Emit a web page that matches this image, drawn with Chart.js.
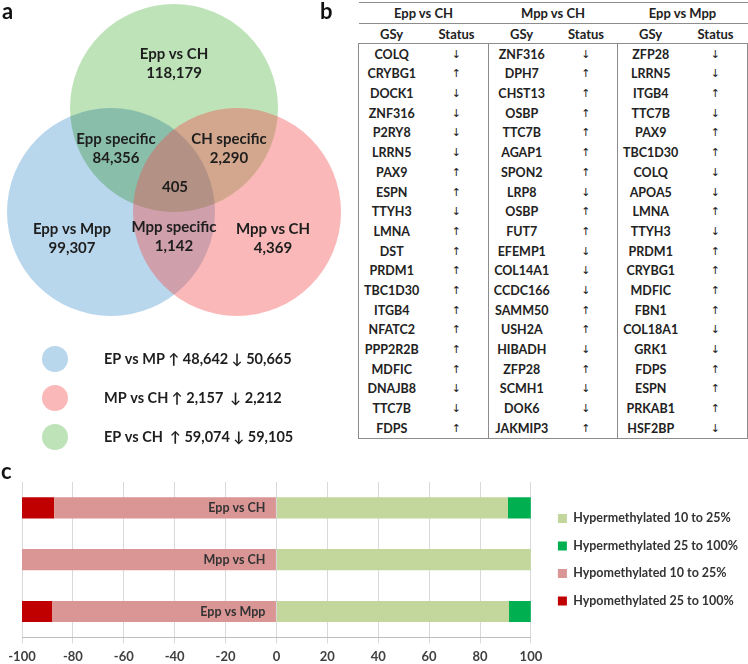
<!DOCTYPE html>
<html>
<head>
<meta charset="utf-8">
<script src="https://cdn.jsdelivr.net/npm/chart.js@4.4.1/dist/chart.umd.min.js"></script>
<style>
body { margin: 0; width: 748px; height: 664px; position: relative; background: #fff; font-family: Lato, sans-serif; overflow: hidden; }
.tag { position: absolute; font-weight: bold; font-size: 22px; color: #111; line-height: 22px; z-index: 2; }
#venn { position: absolute; left: 0; top: 0; }
#bars { position: absolute; left: 0; top: 478px; }
#tbl { position: absolute; left: 358px; top: 2px; border-collapse: collapse; table-layout: fixed; width: 389px; font-weight: bold; font-size: 12.5px; color: #222; }
#tbl td { height: 19.7px; padding: 0; text-align: center; white-space: nowrap; }
#tbl tr.h1 td, #tbl tr.h2 td { font-size: 13px; }
#tbl .arrow { font-family: "DejaVu Sans", sans-serif; font-weight: normal; font-size: 11px; }
#tbl tr.h1 td { border-top: 1px solid #8c8c8c; border-bottom: 1px solid #8c8c8c; }
#tbl tr.h2 td { border-bottom: 1px solid #8c8c8c; }
#tbl td.gl { border-left: 1px solid #8c8c8c; }
#tbl td.gr { border-right: 1px solid #8c8c8c; }
#tbl tr.last td { border-bottom: 1px solid #8c8c8c; }
</style>
</head>
<body>
<canvas id="venn" width="352" height="470"></canvas>
<table id="tbl"></table>
<canvas id="bars" width="748" height="193"></canvas>
<div class="tag" style="left:2px;top:0px">a</div>
<div class="tag" style="left:320px;top:0px">b</div>
<div class="tag" style="left:1px;top:460px">c</div>
<script>
// ---- panel a: venn counts
const vennSets = ['Epp vs CH', 'Epp vs Mpp', 'Mpp vs CH'];
const vennSetCounts = ['118,179', '99,307', '4,369'];
const vennPairs = ['Epp specific', 'CH specific', 'Mpp specific'];
const vennPairCounts = ['84,356', '2,290', '1,142'];
const vennCore = '405';
const keyText = ['EP vs MP \u2191 48,642 \u2193 50,665', 'MP vs CH \u2191 2,157  \u2193 2,212', 'EP vs CH  \u2191 59,074 \u2193 59,105'];
const keyColors = ['rgb(184,214,236)', 'rgb(250,184,184)', 'rgb(190,227,185)'];

// ---- panel b: genes
const eppChGenes = ['COLQ','CRYBG1','DOCK1','ZNF316','P2RY8','LRRN5','PAX9','ESPN','TTYH3','LMNA','DST','PRDM1','TBC1D30','ITGB4','NFATC2','PPP2R2B','MDFIC','DNAJB8','TTC7B','FDPS'];
const eppChStatus = ['↓','↑','↓','↓','↓','↓','↑','↑','↓','↑','↑','↑','↑','↑','↑','↑','↑','↓','↓','↑'];
const mppChGenes = ['ZNF316','DPH7','CHST13','OSBP','TTC7B','AGAP1','SPON2','LRP8','OSBP','FUT7','EFEMP1','COL14A1','CCDC166','SAMM50','USH2A','HIBADH','ZFP28','SCMH1','DOK6','JAKMIP3'];
const mppChStatus = ['↓','↑','↑','↑','↑','↑','↑','↓','↑','↑','↓','↓','↓','↑','↑','↓','↑','↓','↓','↑'];
const eppMppGenes = ['ZFP28','LRRN5','ITGB4','TTC7B','PAX9','TBC1D30','COLQ','APOA5','LMNA','TTYH3','PRDM1','CRYBG1','MDFIC','FBN1','COL18A1','GRK1','FDPS','ESPN','PRKAB1','HSF2BP'];
const eppMppStatus = ['↓','↓','↑','↓','↑','↑','↓','↓','↑','↓','↑','↑','↑','↑','↓','↓','↑','↑','↑','↓'];

// ---- panel c: methylation shares
const barCategories = ['Epp vs CH', 'Mpp vs CH', 'Epp vs Mpp'];
const hyper10 = [91.0, 100, 91.4];
const hyper25 = [9.0, 0, 8.6];
const hypo10 = [-87.4, -100, -88.2];
const hypo25 = [-12.6, 0, -11.8];

// venn layout (units of the venn canvas scale)
const circleX = [174, 111, 237], circleY = [108, 212, 212], circleR = 104;
const setLabelPos = [[174, 54], [72, 229], [273, 229]];
const pairLabelPos = [[116, 139], [229, 139], [174, 227]];
const corePos = [175, 187];
const keyX = 55, keyY = [359, 398, 437], keyR = 13;

const vennText = {
  id: 'vennText',
  // green and blue circles multiply, the pink one is a plain translucent wash on top
  beforeDatasetDraw(chart, args) {
    chart.ctx.save();
    if (args.index === 1) chart.ctx.globalCompositeOperation = 'multiply';
  },
  afterDatasetDraw(chart) {
    chart.ctx.restore();
  },
  afterDatasetsDraw(chart) {
    const ctx = chart.ctx;
    const sx = chart.scales.x, sy = chart.scales.y;
    ctx.save();
    ctx.fillStyle = '#1e1e1e';
    ctx.textAlign = 'center';
    ctx.textBaseline = 'middle';
    ctx.font = 'bold 15px Lato';
    const two = (pos, a, b) => {
      ctx.fillText(a, sx.getPixelForValue(pos[0]), sy.getPixelForValue(pos[1]));
      ctx.fillText(b, sx.getPixelForValue(pos[0]), sy.getPixelForValue(pos[1] + 19));
    };
    vennSets.forEach((s, i) => two(setLabelPos[i], s, vennSetCounts[i]));
    vennPairs.forEach((s, i) => two(pairLabelPos[i], s, vennPairCounts[i]));
    ctx.fillText(vennCore, sx.getPixelForValue(corePos[0]), sy.getPixelForValue(corePos[1]));
    ctx.textAlign = 'left';
    ctx.font = 'bold 14.5px Lato, "DejaVu Sans"';
    keyText.forEach((t, i) => ctx.fillText(t, sx.getPixelForValue(104), sy.getPixelForValue(keyY[i])));
    ctx.restore();
  }
};

new Chart(document.getElementById('venn'), {
  type: 'bubble',
  data: {
    datasets: [{
      data: [{x: circleX[2], y: circleY[2], r: circleR}],
      backgroundColor: 'rgba(242,77,77,0.4)',
      borderWidth: 0,
      clip: false
    }, {
      data: [{x: circleX[0], y: circleY[0], r: circleR}, {x: circleX[1], y: circleY[1], r: circleR}],
      backgroundColor: ['rgb(190,227,185)', 'rgb(184,214,236)'],
      borderWidth: 0,
      clip: false
    }, {
      data: keyY.map(y => ({x: keyX, y: y, r: keyR})),
      backgroundColor: keyColors,
      borderWidth: 0,
      clip: false
    }]
  },
  options: {
    responsive: false,
    animation: false,
    layout: {padding: 0, autoPadding: false},
    plugins: {legend: {display: false}, tooltip: {enabled: false}},
    events: [],
    scales: {
      x: {display: false, min: 0, max: 352},
      y: {display: false, min: 0, max: 470, reverse: true}
    }
  },
  plugins: [vennText]
});

// table
const groups = [['Epp vs CH', eppChGenes, eppChStatus], ['Mpp vs CH', mppChGenes, mppChStatus], ['Epp vs Mpp', eppMppGenes, eppMppStatus]];
let html = '<colgroup><col style="width:66px"><col style="width:64px"><col style="width:66px"><col style="width:63px"><col style="width:66px"><col style="width:64px"></colgroup>';
html += '<tr class="h1">' + groups.map(g => '<td colspan="2">' + g[0] + '</td>').join('') + '</tr>';
html += '<tr class="h2">' + groups.map(() => '<td>GSy</td><td>Status</td>').join('') + '</tr>';
for (let i = 0; i < eppChGenes.length; i++) {
  html += '<tr' + (i === eppChGenes.length - 1 ? ' class="last"' : '') + '>';
  groups.forEach((g, k) => {
    html += '<td class="gl">' + g[1][i] + '</td><td class="arrow' + (k === 2 ? ' gr' : '') + '">' + g[2][i] + '</td>';
  });
  html += '</tr>';
}
document.getElementById('tbl').innerHTML = html;

// category names sit inside the negative bars, right against zero
const barNames = {
  id: 'barNames',
  afterDatasetsDraw(chart) {
    const ctx = chart.ctx;
    const x0 = chart.scales.x.getPixelForValue(0);
    ctx.save();
    ctx.fillStyle = '#333';
    ctx.font = 'bold 12.5px Lato';
    ctx.textAlign = 'right';
    ctx.textBaseline = 'middle';
    barCategories.forEach((c, i) => ctx.fillText(c, x0 - 11, chart.scales.y.getPixelForValue(i)));
    ctx.restore();
  }
};

new Chart(document.getElementById('bars'), {
  type: 'bar',
  data: {
    labels: barCategories,
    datasets: [
      {label: 'Hypermethylated 10 to 25%', data: hyper10, backgroundColor: '#c3d69b'},
      {label: 'Hypermethylated 25 to 100%', data: hyper25, backgroundColor: '#00b050'},
      {label: 'Hypomethylated 10 to 25%', data: hypo10, backgroundColor: '#d99694'},
      {label: 'Hypomethylated 25 to 100%', data: hypo25, backgroundColor: '#c00000'}
    ]
  },
  options: {
    indexAxis: 'y',
    responsive: false,
    animation: false,
    events: [],
    barPercentage: 0.41,
    categoryPercentage: 1,
    layout: {padding: {left: 22, top: 4, right: 0, bottom: 0}},
    plugins: {
      tooltip: {enabled: false},
      legend: {
        position: 'right',
        fullSize: false,
        maxWidth: 300,
        labels: {boxWidth: 9, boxHeight: 9, padding: 15, color: '#333', font: {family: 'Lato', weight: 'bold', size: 12.5}}
      }
    },
    scales: {
      x: {
        stacked: true, min: -100, max: 100,
        ticks: {stepSize: 20, padding: 6, color: '#404040', font: {family: 'Lato', weight: 'bold', size: 13}},
        grid: {color: '#d9d9d9', tickLength: 6},
        border: {color: '#bfbfbf'}
      },
      y: {stacked: true, display: false},
      gap: {
        type: 'category', labels: barCategories, position: 'right',
        grid: {display: false}, border: {display: false}, ticks: {display: false},
        afterFit(scale) { scale.width = 12; }
      }
    }
  },
  plugins: [barNames]
});
</script>
</body>
</html>
